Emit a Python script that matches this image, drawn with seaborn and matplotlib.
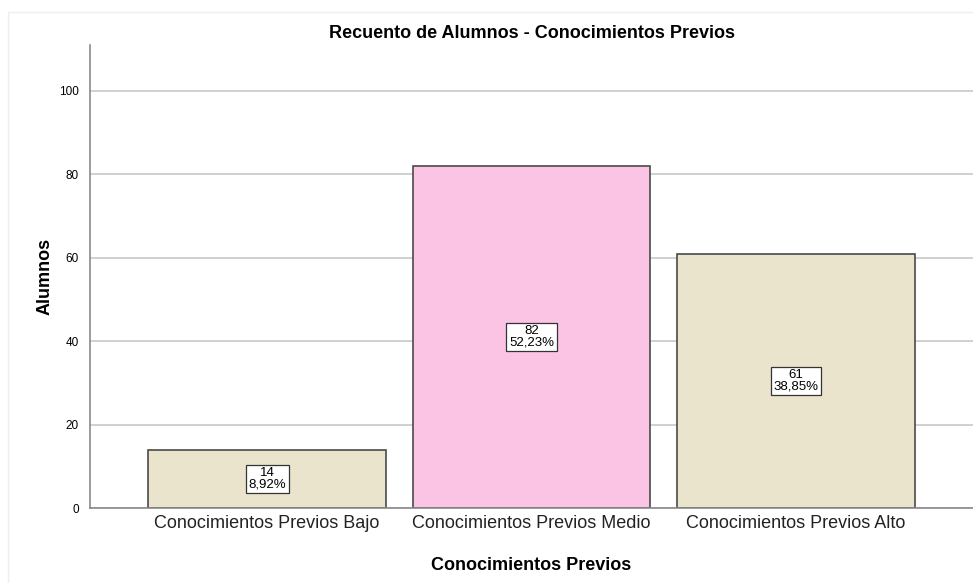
import pandas as pd
import seaborn as sns
import matplotlib.pyplot as plt
from matplotlib.patches import Rectangle

# Datos del grafico
categorias = ['Conocimientos Previos Bajo', 'Conocimientos Previos Medio', 'Conocimientos Previos Alto']
alumnos = [14, 82, 61]
porcentajes = ['8,92%', '52,23%', '38,85%']
colores = ['#EAE4CD', '#FBC4E4', '#EAE4CD']

df = pd.DataFrame({'categoria': categorias, 'alumnos': alumnos})

sns.set_style('white')
plt.rcParams['font.family'] = ['Liberation Sans', 'DejaVu Sans']
plt.rcParams['text.color'] = 'black'
plt.rcParams['axes.labelcolor'] = 'black'

fig = plt.figure(figsize=(9.73, 5.83), dpi=100)
ax = fig.add_axes([0.0925, 0.1286, 0.9075, 0.7942])

sns.barplot(data=df, x='categoria', y='alumnos', hue='categoria', palette=colores,
            saturation=1, width=0.9, edgecolor='#4a4a4a', linewidth=1.2, legend=False,
            ax=ax, zorder=2)

# Grid horizontal
ax.set_yticks([0, 20, 40, 60, 80, 100])
ax.yaxis.grid(True, color='#c8c8c8', linewidth=1.2, zorder=0)
ax.set_axisbelow(True)
ax.set_ylim(0, 111)
ax.set_xlim(-0.67, 2.67)

# Etiquetas de las barras
for i, (v, p) in enumerate(zip(alumnos, porcentajes)):
    ax.text(i, v / 2, f'{v}\n{p}', ha='center', va='center', fontsize=9.5, linespacing=0.9,
            bbox=dict(boxstyle='square,pad=0.2', facecolor='white', edgecolor='#333333', linewidth=0.9),
            zorder=4)

for s in ['top', 'right']:
    ax.spines[s].set_visible(False)
ax.spines['left'].set_color('#8a8a8a')
ax.spines['bottom'].set_color('#8a8a8a')
ax.spines['left'].set_linewidth(1.2)
ax.spines['bottom'].set_linewidth(1.2)

ax.tick_params(axis='x', labelsize=13, length=0, pad=5, colors='#222222')
ax.tick_params(axis='y', labelsize=8.5, length=0, pad=8, colors='black')

ax.set_xlabel('Conocimientos Previos', fontsize=13, fontweight='bold', labelpad=18)
ax.set_ylabel('Alumnos', fontsize=13, fontweight='bold', labelpad=4)
ax.set_title('Recuento de Alumnos - Conocimientos Previos', fontsize=13, fontweight='bold', pad=5)

# marco exterior tenue
fig.patches.append(Rectangle((0.008, -0.05), 1.1, 1.03, transform=fig.transFigure,
                             fill=False, edgecolor='#eeeeee', linewidth=1))

fig.savefig('out.png', dpi=100)
